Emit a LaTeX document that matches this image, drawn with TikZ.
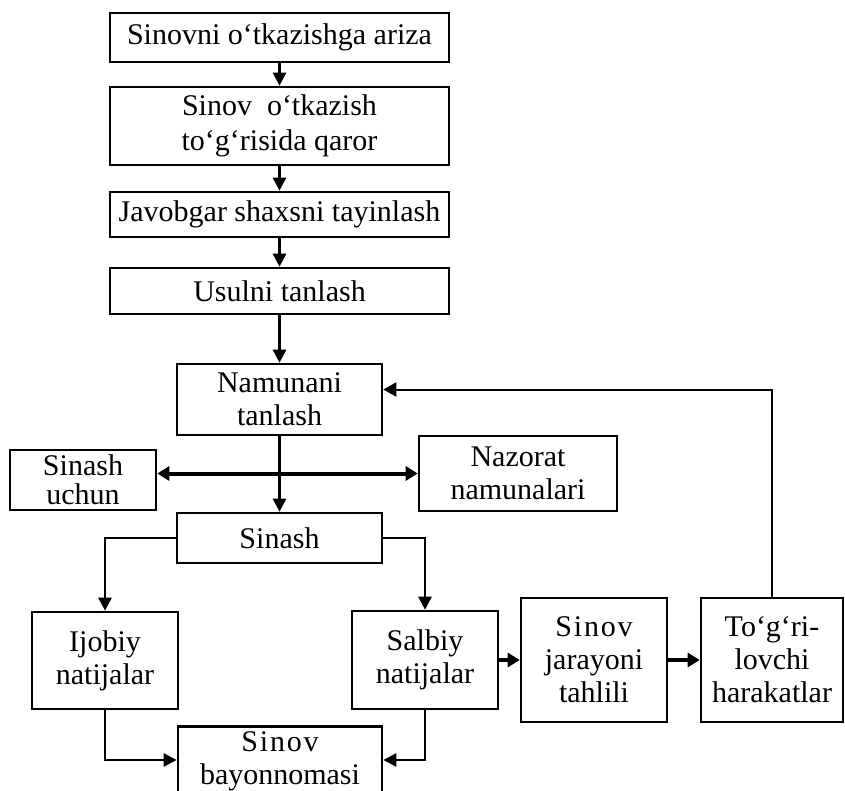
\documentclass[tikz,border=0pt]{standalone}
\usepackage{fontspec}
\setmainfont{Liberation Serif}
\usetikzlibrary{arrows.meta,positioning}
\newcommand{\kengay}[1]{{\addfontfeature{LetterSpace=6}#1}}

\begin{document}
\begin{tikzpicture}[x=1pt,y=1pt,
  blok/.style={draw,line width=2.6pt,align=center,inner sep=0pt,font=\fontsize{30}{33}\selectfont},
  oq/.style={line width=2.6pt,-{Triangle[length=13pt,width=13pt]}},
  qalin/.style={line width=4pt,-{Triangle[length=12pt,width=14pt]}}]
\useasboundingbox[fill=white] (0,0) rectangle (845,-791);
% yuqori ustun
\node[blok,minimum width=339,minimum height=49] (ariza) at (279.5,-37.5) {Sinovni o‘tkazishga ariza};
\node[blok,minimum width=339,minimum height=78,font=\fontsize{30}{35}\selectfont] (qaror) at (279.5,-126) {Sinov\ \ o‘tkazish\\to‘g‘risida qaror};
\node[blok,minimum width=339,minimum height=45] (shaxs) at (279.5,-214.5) {Javobgar shaxsni tayinlash};
\node[blok,minimum width=339,minimum height=46] (usul) at (279.5,-291) {Usulni tanlash};
% namunalar
\node[blok,minimum width=205,minimum height=71] (namuna) at (279.5,-399.5) {Namunani\\tanlash};
\node[blok,minimum width=146,minimum height=60,font=\fontsize{30}{29}\selectfont] (uchun) at (83,-480) {Sinash\\uchun};
\node[blok,minimum width=198,minimum height=75] (nazorat) at (518,-473.5) {Nazorat\\namunalari};
\node[blok,minimum width=205,minimum height=50] (sinash) at (279.5,-538) {Sinash};
% natijalar
\node[blok,minimum width=146,minimum height=97] (ijobiy) at (105,-660.5) {Ijobiy\\natijalar};
\node[blok,minimum width=146,minimum height=98] (salbiy) at (425,-660) {Salbiy\\natijalar};
\node[blok,minimum width=146,minimum height=124] (tahlil) at (594,-660) {\kengay{Sinov}\\jarayoni\\tahlili};
\node[blok,minimum width=142,minimum height=124] (tuzat) at (772,-660) {To‘g‘ri-\\lovchi\\harakatlar};
\node[blok,anchor=north,minimum width=204,minimum height=70] (bayon) at (280,-725) {\kengay{Sinov}\\bayonnomasi};

\draw[oq] (ariza) -- (qaror);
\draw[oq] (qaror) -- (shaxs);
\draw[oq] (shaxs) -- (usul);
\draw[oq] (usul) -- (namuna);
\draw[oq] (namuna) -- (sinash);
\draw[qalin,{Triangle[length=12pt,width=14pt]}-{Triangle[length=12pt,width=14pt]}] (uchun.east |- nazorat.west) -- (nazorat.west);
\draw[oq] (sinash.west) -| (ijobiy.north);
\draw[oq] (sinash.east) -| (salbiy.north);
\draw[qalin] (salbiy.east) -- (tahlil.west);
\draw[qalin] (tahlil.east) -- (tuzat.west);
\draw[line width=2pt,-{Triangle[length=13pt,width=14pt]}] (tuzat.north) |- ([yshift=10pt]namuna.east);
\draw[oq] (ijobiy.south) |- ([yshift=-35pt]bayon.north west);
\draw[oq] (salbiy.south) |- ([yshift=-35pt]bayon.north east);
\end{tikzpicture}
\end{document}
